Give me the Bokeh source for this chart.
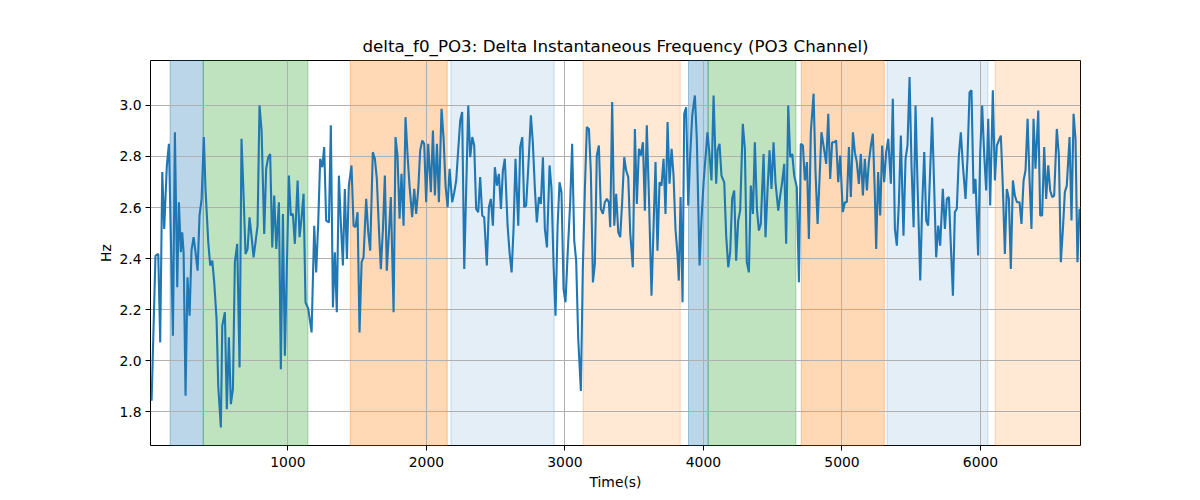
from bokeh.plotting import figure
from bokeh.models import BoxAnnotation, FixedTicker, PrintfTickFormatter, Range1d
from bokeh.embed import file_html
from bokeh.resources import INLINE

TITLE = "delta_f0_PO3: Delta Instantaneous Frequency (PO3 Channel)"
X_LABEL = "Time(s)"
Y_LABEL = "Hz"

time_s = [
    16, 44, 64, 78, 93, 107, 117, 126, 141, 170, 184, 201, 213, 227, 237, 247, 261, 275, 290, 304,
    319, 333, 348, 362, 377, 393, 405, 425, 439, 454, 468, 485, 497, 516, 526, 545, 559, 574, 588, 603,
    617, 634, 651, 665,
    680, 694, 709, 723, 737, 752, 766, 781, 795, 810, 829, 843, 858, 872, 887, 901, 916, 935, 949, 964,
    978, 1007, 1021, 1036, 1050, 1070, 1084, 1098, 1113, 1127, 1147, 1171, 1190, 1204, 1219, 1233, 1248,
    1262, 1276, 1296, 1310, 1325, 1339, 1353, 1368,
    1382, 1397, 1411, 1426, 1440, 1459, 1474, 1488, 1503, 1517, 1532, 1546, 1565, 1580, 1594, 1613,
    1628, 1642, 1657, 1671, 1686, 1700, 1714, 1729, 1743, 1763, 1777, 1791, 1806, 1820, 1835, 1849,
    1864, 1878, 1897, 1912, 1926, 1941, 1955, 1970, 1984, 1998, 2013,
    2032, 2047, 2061, 2076, 2090, 2109, 2124, 2138, 2153, 2167, 2186, 2201, 2215, 2230, 2244, 2258,
    2273, 2302, 2316, 2331, 2345, 2359, 2374, 2388, 2403, 2417, 2436, 2451, 2465, 2480, 2494, 2509,
    2523, 2538, 2552, 2566, 2586, 2600, 2615, 2629, 2643, 2663, 2677, 2692,
    2706, 2720, 2740, 2754, 2768, 2783, 2797, 2812, 2826, 2841, 2855, 2870, 2889, 2903, 2918, 2932,
    2947, 2961, 2975, 2990, 3004, 3019, 3038, 3052, 3067, 3081, 3096, 3115, 3129, 3144, 3158, 3173,
    3187, 3202, 3216, 3230, 3245, 3259, 3274, 3288, 3303, 3317, 3327, 3341,
    3356, 3370, 3385, 3399, 3413, 3428, 3442, 3457, 3471, 3490, 3505, 3519, 3534, 3548, 3563, 3577,
    3591, 3606, 3625, 3640, 3654, 3668, 3683, 3697, 3712, 3726, 3741, 3755, 3770, 3784, 3798, 3813,
    3822, 3835, 3849, 3861, 3875, 3890, 3904, 3919, 3938, 3952, 3972, 3986, 4001,
    4029, 4044, 4058, 4073, 4092, 4102, 4116, 4130, 4150, 4164, 4179, 4193, 4207, 4222, 4236, 4251,
    4265, 4284, 4299, 4313, 4328, 4342, 4357, 4371, 4386, 4400, 4414, 4434, 4448, 4463, 4477, 4491,
    4506, 4520, 4540, 4554, 4568, 4583, 4597, 4612, 4626, 4641, 4655, 4674, 4689,
    4703, 4718, 4732, 4747, 4761, 4775, 4795, 4809, 4824, 4839, 4852, 4872, 4886, 4901, 4915, 4929,
    4944, 4958, 4973, 4987, 5006, 5021, 5035, 5050, 5064, 5079, 5093, 5107, 5122, 5136, 5151, 5165,
    5180, 5194, 5209, 5223, 5237, 5247, 5261, 5276, 5290, 5305, 5319, 5334,
    5353, 5367, 5382, 5396, 5411, 5425, 5444, 5459, 5473, 5488, 5502, 5517, 5531, 5545, 5565, 5579,
    5594, 5608, 5622, 5637, 5651, 5666, 5680, 5695, 5709, 5728, 5743, 5757, 5772, 5786, 5801, 5815,
    5829, 5844, 5858, 5873, 5892, 5906, 5921, 5935, 5950, 5964, 5983, 5998, 6012,
    6027, 6041, 6056, 6070, 6089, 6104, 6118, 6133, 6147, 6161, 6176, 6190, 6205, 6219, 6234, 6248,
    6263, 6282, 6296, 6311, 6325, 6340, 6354, 6368, 6383, 6397, 6417, 6431, 6445, 6460, 6474, 6489,
    6503, 6518, 6532, 6551, 6566, 6580, 6595, 6609, 6623, 6643, 6657, 6672, 6686, 6700, 6715,
]

delta_hz = [
    1.843, 2.412, 2.418, 2.072, 2.739, 2.516, 2.647, 2.765, 2.850, 2.098, 2.895, 2.288, 2.621, 2.425, 2.503, 2.425, 1.863, 2.327, 2.176, 2.431,
    2.484, 2.425, 2.353, 2.569, 2.634, 2.876, 2.673, 2.464, 2.373, 2.392, 2.307, 2.163, 1.902, 1.739, 2.137, 2.190, 1.810, 2.092, 1.830, 1.889,
    2.386, 2.458, 1.974, 2.869,
    2.647, 2.418, 2.438, 2.562, 2.490, 2.405, 2.464, 2.529, 3.000, 2.902, 2.497, 2.752, 2.797, 2.810, 2.444, 2.647, 2.438, 2.621, 1.967, 2.575,
    2.020, 2.725, 2.569, 2.575, 2.458, 2.706, 2.484, 2.556, 2.654, 2.229, 2.203, 2.111, 2.529, 2.346, 2.542, 2.791, 2.758,
    2.837, 2.549, 2.542, 2.922, 2.209, 2.425, 2.190, 2.725,
    2.542, 2.373, 2.673, 2.399, 2.686, 2.765, 2.529, 2.523, 2.582, 2.111, 2.386, 2.405, 2.634, 2.503, 2.431, 2.817,
    2.791, 2.712, 2.516, 2.359, 2.516, 2.725, 2.353, 2.497, 2.641, 2.190, 2.876, 2.804, 2.556, 2.732, 2.529, 2.954,
    2.804, 2.686, 2.562, 2.673, 2.575, 2.673, 2.824, 2.863, 2.850, 2.621, 2.850,
    2.660, 2.902, 2.647, 2.850, 2.621, 2.987, 2.869, 2.686, 2.601, 2.752, 2.621, 2.660, 2.706, 2.830, 2.941, 2.974,
    2.359, 3.000, 2.797, 2.876, 2.843, 2.595, 2.582, 2.719, 2.569, 2.562, 2.373, 2.601, 2.634, 2.529, 2.758, 2.686,
    2.732, 2.595, 2.745, 2.791, 2.529, 2.425, 2.346, 2.516, 2.791, 2.529, 2.837, 2.876,
    2.601, 2.608, 2.804, 2.961, 2.856, 2.673, 2.542, 2.641, 2.614, 2.797, 2.516, 2.444, 2.765, 2.673, 2.373, 2.176,
    2.529, 2.699, 2.660, 2.281, 2.229, 2.412, 2.621, 2.850, 2.471, 2.392, 2.085, 1.882, 2.359, 2.673, 2.915, 2.908,
    2.739, 2.307, 2.379, 2.804, 2.843, 2.595, 2.575, 2.621, 2.634, 2.621, 2.523, 3.013,
    2.529, 2.654, 2.503, 2.484, 2.621, 2.797, 2.745, 2.719, 2.503, 2.366, 2.908, 2.614, 2.830, 2.804, 2.856, 2.588,
    2.922, 2.647, 2.255, 2.529, 2.778, 2.431, 2.699, 2.686, 2.791, 2.575, 2.935, 2.693, 2.830, 2.725, 2.516, 2.412,
    2.314, 2.641, 2.229, 2.967, 2.993, 2.608, 2.804, 2.961, 3.039, 2.869, 2.373, 2.556, 2.699,
    2.895, 2.804, 2.706, 3.039, 2.693, 2.824, 2.850, 2.725, 2.699, 2.490, 2.366, 2.425, 2.634, 2.667, 2.392, 2.549,
    2.588, 2.928, 2.830, 2.386, 2.346, 2.686, 2.575, 2.856, 2.595, 2.510, 2.536, 2.810, 2.484, 2.673, 2.824, 2.673,
    2.856, 2.699, 2.588, 2.647, 2.699, 2.771, 2.458, 3.000, 2.797, 2.810, 2.725, 2.680, 2.307,
    2.850, 2.843, 2.706, 2.778, 2.477, 2.895, 3.046, 2.739, 2.536, 2.725, 2.895, 2.824, 2.771, 2.967, 2.712, 2.856,
    2.856, 2.863, 2.699, 2.804, 2.582, 2.621, 2.621, 2.837, 2.641, 2.895, 2.817, 2.778, 2.693, 2.810, 2.647, 2.791,
    2.667, 2.778, 2.843, 2.889, 2.660, 2.438, 2.739, 2.569, 2.843, 2.699, 2.817, 2.869,
    2.693, 3.026, 2.516, 2.451, 2.621, 2.882, 2.490, 2.791, 2.843, 3.111, 2.765, 2.523, 3.000, 2.699, 2.314, 2.608,
    2.817, 2.549, 2.529, 2.752, 2.954, 2.673, 2.405, 2.529, 2.451, 2.673, 2.516, 2.634, 2.641, 2.451, 2.255, 2.582,
    2.595, 2.804, 2.895, 2.765, 2.634, 2.791, 3.052, 3.059, 2.654, 2.712, 2.412, 2.817, 3.000,
    2.804, 2.667, 2.948, 2.608, 3.059, 2.706, 2.843, 2.863, 2.882, 2.686, 2.418, 2.673, 2.634, 2.359, 2.706, 2.647,
    2.621, 2.621, 2.536, 2.706, 2.745, 2.948, 2.712, 2.516, 2.948, 2.752, 2.980, 2.569, 2.569, 2.837, 2.634, 2.765,
    2.667, 2.641, 2.647, 2.908, 2.804, 2.386, 2.516, 2.660, 2.686, 2.876, 2.549, 2.967, 2.869, 2.386, 2.595,
]

band_start = [150, 389, 1450, 2177, 3132, 3892, 4034, 4706, 5326, 6106]
band_end = [389, 1144, 2150, 2922, 3832, 4034, 4667, 5305, 6053, 6730]
band_color = ["#1f77b4", "#2ca02c", "#ff7f0e", "#1f77b4", "#ff7f0e",
              "#1f77b4", "#2ca02c", "#ff7f0e", "#1f77b4", "#ff7f0e"]
band_alpha = [0.3, 0.3, 0.3, 0.12, 0.18, 0.3, 0.3, 0.3, 0.12, 0.18]

x_ticks = [1000, 2000, 3000, 4000, 5000, 6000]
y_ticks = [1.8, 2.0, 2.2, 2.4, 2.6, 2.8, 3.0]

FONT = "DejaVu Sans"

p = figure(
    width=1200, height=500,
    output_backend="svg", toolbar_location=None,
    x_range=Range1d(8, 6722), y_range=Range1d(1.668, 3.176),
    min_border_left=150, min_border_right=120, min_border_top=60, min_border_bottom=55,
    title=TITLE,
)

p.title.text_font = FONT
p.title.text_font_size = "16.7px"
p.title.text_font_style = "normal"
p.title.text_color = "black"
p.title.align = "center"
p.title.standoff = 9

for s, e, c, a in zip(band_start, band_end, band_color, band_alpha):
    p.add_layout(BoxAnnotation(left=s, right=e, fill_color=c, fill_alpha=a,
                               line_color=c, line_alpha=min(1.0, a + 0.1), line_width=1,
                               level="image"))

p.line(time_s, delta_hz, line_color="#1f77b4", line_width=2.1)

p.outline_line_color = "black"
p.outline_line_width = 1
p.outline_line_alpha = 1

for ax in (p.xaxis[0], p.yaxis[0]):
    ax.axis_line_color = None
    ax.major_tick_line_color = "black"
    ax.major_tick_out = 5
    ax.major_tick_in = 0
    ax.minor_tick_line_color = None
    ax.major_label_text_font = FONT
    ax.major_label_text_font_size = "13.9px"
    ax.major_label_text_color = "black"
    ax.axis_label_text_font = FONT
    ax.axis_label_text_font_size = "13.9px"
    ax.axis_label_text_font_style = "normal"
    ax.axis_label_text_color = "black"

p.xaxis[0].ticker = FixedTicker(ticks=x_ticks)
p.xaxis[0].formatter = PrintfTickFormatter(format="%d")
p.xaxis[0].axis_label = X_LABEL
p.xaxis[0].major_label_standoff = 6
p.xaxis[0].axis_label_standoff = 4

p.yaxis[0].ticker = FixedTicker(ticks=y_ticks)
p.yaxis[0].formatter = PrintfTickFormatter(format="%.1f")
p.yaxis[0].axis_label = Y_LABEL
p.yaxis[0].major_label_standoff = 4
p.yaxis[0].axis_label_standoff = 2

p.xgrid[0].ticker = FixedTicker(ticks=x_ticks)
p.ygrid[0].ticker = FixedTicker(ticks=y_ticks)
for g in (p.xgrid[0], p.ygrid[0]):
    g.grid_line_color = "#b0b0b0"
    g.grid_line_width = 1
    g.grid_line_alpha = 1

p.background_fill_color = "white"
p.border_fill_color = "white"

open("out.html", "w").write(file_html(p, INLINE))
